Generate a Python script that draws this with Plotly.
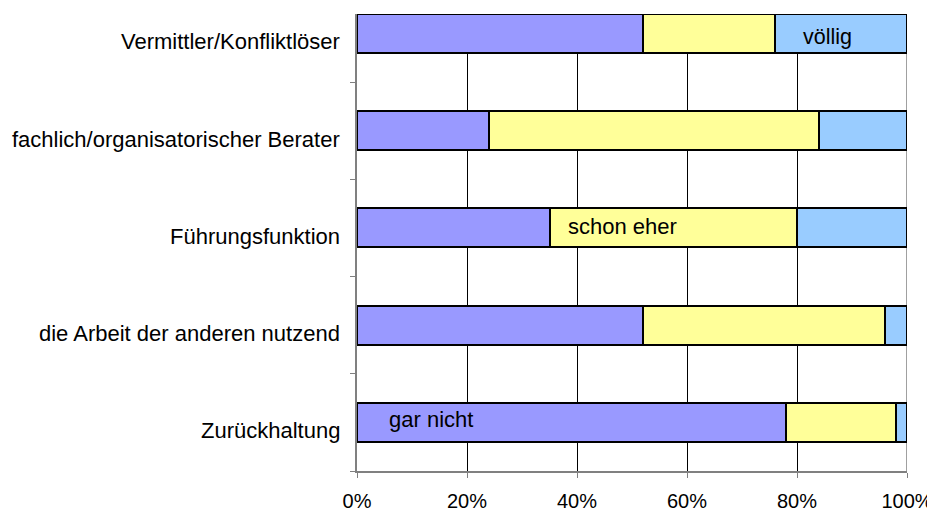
import plotly.graph_objects as go

categories = [
    "Vermittler/Konfliktlöser",
    "fachlich/organisatorischer Berater",
    "Führungsfunktion",
    "die Arbeit der anderen nutzend",
    "Zurückhaltung",
]
gar_nicht = [52, 24, 35, 52, 78]
schon_eher = [24, 60, 45, 44, 20]
voellig = [24, 16, 20, 4, 2]
series_names = ["gar nicht", "schon eher", "völlig"]
series_colors = ["#9999FF", "#FFFF99", "#99CCFF"]
x_ticks = [0, 20, 40, 60, 80, 100]
x_tick_labels = ["0%", "20%", "40%", "60%", "80%", "100%"]

FONT = "Liberation Sans, Arial, sans-serif"

fig = go.Figure()
for name, vals, col in zip(series_names, [gar_nicht, schon_eher, voellig], series_colors):
    fig.add_trace(go.Bar(
        y=categories, x=vals, name=name, orientation="h",
        marker=dict(color=col, line=dict(color="black", width=2)),
        width=0.4,
    ))

# page body has an 8px margin, so the figure is drawn offset by (8, 8)
fig.update_layout(
    barmode="stack",
    width=927, height=506,
    margin=dict(l=349, r=28, t=6, b=43, autoexpand=False),
    paper_bgcolor="white", plot_bgcolor="white",
    showlegend=False,
    font=dict(family=FONT, size=20, color="black"),
)
fig.update_xaxes(
    range=[0, 100], tickvals=x_ticks, ticktext=x_tick_labels,
    showgrid=True, gridcolor="black", gridwidth=1,
    showline=True, linecolor="#808080", linewidth=2,
    ticks="outside", ticklen=5, tickcolor="#808080",
    tickfont=dict(size=20, family=FONT, color="black"),
    ticklabelstandoff=6, zeroline=False, automargin=False,
)
fig.update_yaxes(
    categoryorder="array", categoryarray=categories[::-1],
    range=[-0.5, 4.2],
    showline=True, linecolor="#808080", linewidth=2,
    ticks="outside", ticklen=5, tickcolor="#808080", tickson="boundaries",
    showticklabels=False, showgrid=False, zeroline=False, automargin=False,
)
fig.add_shape(type="line", xref="x", yref="paper", x0=100, x1=100, y0=0, y1=1,
              line=dict(color="#A0A0A0", width=2), layer="below")

# category labels (sit slightly below the bar centres, as in the reference)
for cat in categories:
    fig.add_annotation(x=0, xref="paper", y=cat, yref="y", text=cat, showarrow=False,
                       xanchor="right", xshift=-15, yshift=-8.5,
                       font=dict(size=22, family=FONT, color="black"))

fig.add_annotation(x=85.5, y=categories[0], text="völlig", showarrow=False, yshift=-3.5,
                   font=dict(size=21.5, family=FONT, color="black"))
fig.add_annotation(x=48.3, y=categories[2], text="schon eher", showarrow=False, yshift=1,
                   font=dict(size=22, family=FONT, color="black"))
fig.add_annotation(x=13.5, y=categories[4], text="gar nicht", showarrow=False, yshift=3,
                   font=dict(size=22, family=FONT, color="black"))

fig.write_html("out.html")
